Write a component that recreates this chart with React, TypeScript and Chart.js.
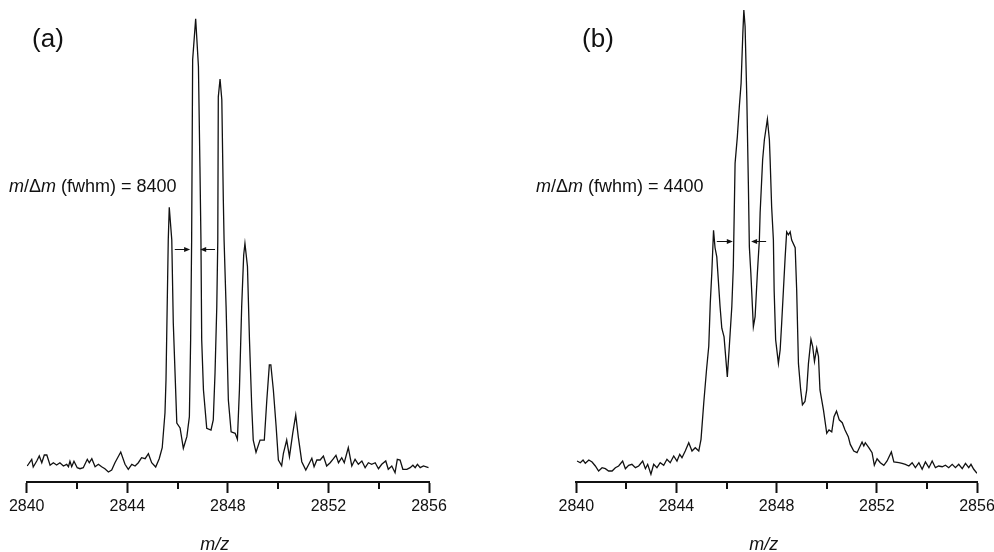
import React, { useEffect, useRef } from 'react';
import { Chart, registerables } from 'chart.js';

Chart.register(...registerables);

const FAM = "'Liberation Sans', Arial, Helvetica, sans-serif";

// ---------- data: panel (a) ----------
const mzA = [
  2840.02, 2840.20, 2840.26, 2840.40, 2840.50, 2840.60, 2840.70, 2840.80, 2840.93, 2841.06,
  2841.19, 2841.32, 2841.46, 2841.59, 2841.66, 2841.72, 2841.79, 2841.88, 2842.01, 2842.12,
  2842.25, 2842.41, 2842.49, 2842.59, 2842.72, 2842.85, 2842.98, 2843.11, 2843.25, 2843.38,
  2843.51, 2843.74, 2843.91, 2844.04, 2844.18, 2844.31, 2844.44, 2844.57, 2844.71, 2844.84,
  2844.97, 2845.13, 2845.27, 2845.39, 2845.50, 2845.54, 2845.63, 2845.67, 2845.77, 2845.83,
  2845.97, 2846.10, 2846.23, 2846.37, 2846.47, 2846.52, 2846.56, 2846.60, 2846.72, 2846.83,
  2846.89, 2846.93, 2846.96, 2847.03, 2847.16, 2847.33, 2847.42, 2847.49, 2847.56, 2847.60,
  2847.62, 2847.69, 2847.76, 2847.82, 2847.85, 2847.93, 2848.02, 2848.13, 2848.29, 2848.38,
  2848.46, 2848.55, 2848.63, 2848.68, 2848.78, 2848.86, 2848.95, 2849.01, 2849.12, 2849.28,
  2849.45, 2849.55, 2849.65, 2849.71, 2849.81, 2849.92, 2850.01, 2850.14, 2850.21, 2850.34,
  2850.45, 2850.58, 2850.70, 2850.80, 2850.94, 2851.10, 2851.24, 2851.34, 2851.43, 2851.54,
  2851.67, 2851.80, 2851.93, 2852.07, 2852.20, 2852.30, 2852.40, 2852.53, 2852.63, 2852.79,
  2852.93, 2853.06, 2853.19, 2853.33, 2853.46, 2853.59, 2853.72, 2853.86, 2853.99, 2854.12,
  2854.28, 2854.38, 2854.52, 2854.65, 2854.74, 2854.85, 2854.96, 2855.12, 2855.25, 2855.36,
  2855.45, 2855.54, 2855.65, 2855.78, 2855.98,
];
const intA = [
  3.32, 4.71, 3.11, 4.36, 5.40, 4.00, 5.60, 5.60, 3.47, 4.00,
  3.53, 4.00, 3.32, 3.67, 3.17, 4.30, 3.17, 4.30, 2.97, 2.76,
  2.97, 4.71, 4.00, 4.83, 3.17, 3.67, 3.17, 2.76, 2.07, 2.49,
  4.00, 6.22, 3.67, 2.64, 3.67, 3.32, 4.00, 5.04, 4.83, 5.87,
  4.00, 3.11, 4.83, 7.12, 14.38, 21.17, 50.2, 57.0, 50.2, 33.0,
  12.24, 11.2, 7.0, 9.4, 13.55, 29.5, 50.2, 87.6, 96.1, 86.2,
  65.4, 50.2, 29.5, 19.1, 11.14, 10.79, 12.87, 22.6, 36.4, 50.2,
  79.9, 83.6, 79.3, 58.5, 50.2, 36.4, 17.0, 10.4, 10.1, 8.86,
  19.1, 36.4, 47.1, 49.5, 44.7, 29.5, 15.6, 8.7, 6.16, 8.7,
  8.7, 17.0, 24.3, 24.3, 19.1, 11.5, 4.56, 3.38, 5.96, 8.7,
  5.25, 10.1, 13.9, 9.4, 4.21, 2.49, 3.88, 4.92, 3.17, 4.56,
  4.56, 5.40, 3.32, 4.00, 4.83, 5.54, 4.00, 5.04, 4.00, 7.12,
  3.32, 4.71, 3.67, 4.36, 2.97, 4.00, 3.67, 4.00, 2.76, 3.67,
  4.36, 2.64, 3.32, 1.93, 4.71, 4.56, 2.64, 2.64, 2.97, 3.47,
  2.97, 3.67, 2.97, 3.32, 2.97,
];

// ---------- data: panel (b) ----------
const mzB = [
  2840.03, 2840.16, 2840.27, 2840.36, 2840.50, 2840.63, 2840.76, 2840.89, 2841.03, 2841.16,
  2841.29, 2841.43, 2841.56, 2841.69, 2841.85, 2841.96, 2842.09, 2842.22, 2842.36, 2842.49,
  2842.65, 2842.76, 2842.85, 2842.98, 2843.09, 2843.22, 2843.35, 2843.49, 2843.62, 2843.75,
  2843.89, 2844.02, 2844.13, 2844.22, 2844.35, 2844.49, 2844.62, 2844.75, 2844.89, 2844.98,
  2845.09, 2845.20, 2845.29, 2845.35, 2845.41, 2845.48, 2845.54, 2845.61, 2845.74, 2845.81,
  2845.90, 2846.03, 2846.11, 2846.21, 2846.27, 2846.34, 2846.43, 2846.51, 2846.58, 2846.65,
  2846.69, 2846.74, 2846.81, 2846.87, 2846.91, 2846.97, 2847.07, 2847.14, 2847.23, 2847.31,
  2847.34, 2847.44, 2847.51, 2847.63, 2847.71, 2847.74, 2847.80, 2847.87, 2847.90, 2847.96,
  2848.07, 2848.14, 2848.20, 2848.27, 2848.34, 2848.40, 2848.47, 2848.54, 2848.60, 2848.74,
  2848.80, 2848.87, 2848.96, 2849.03, 2849.13, 2849.20, 2849.27, 2849.37, 2849.44, 2849.51,
  2849.60, 2849.67, 2849.73, 2849.87, 2850.00, 2850.09, 2850.20, 2850.29, 2850.39, 2850.50,
  2850.62, 2850.73, 2850.86, 2850.94, 2851.08, 2851.21, 2851.41, 2851.48, 2851.54, 2851.68,
  2851.81, 2851.90, 2852.01, 2852.14, 2852.28, 2852.41, 2852.58, 2852.68, 2852.88, 2853.01,
  2853.14, 2853.28, 2853.41, 2853.54, 2853.68, 2853.81, 2853.94, 2854.08, 2854.21, 2854.34,
  2854.47, 2854.61, 2854.74, 2854.87, 2855.01, 2855.14, 2855.27, 2855.41, 2855.54, 2855.67,
  2855.76, 2855.87, 2856.00,
];
const intB = [
  4.36, 4.00, 4.56, 3.88, 4.56, 4.15, 3.32, 2.28, 2.97, 2.76,
  2.28, 2.28, 2.97, 3.32, 4.36, 2.76, 3.47, 3.67, 2.97, 3.32,
  4.36, 2.76, 3.67, 1.60, 3.67, 2.97, 4.00, 3.47, 4.71, 4.00,
  5.40, 4.36, 5.75, 5.04, 6.43, 8.15, 6.43, 7.12, 6.43, 8.86,
  16.45, 23.3, 28.2, 37.2, 43.3, 52.2, 48.6, 46.7, 36.4, 31.9,
  30.1, 21.8, 28.1, 36.4, 44.7, 66.1, 71.6, 77.9, 82.7, 93.1,
  97.9, 94.5, 79.3, 62.0, 48.8, 43.3, 32.2, 34.3, 43.3, 50.2,
  55.8, 66.8, 71.0, 75.3, 71.0, 66.8, 57.1, 50.2, 39.8, 29.5,
  24.6, 27.4, 32.9, 39.8, 46.7, 51.9, 51.3, 51.9, 50.2, 48.6,
  39.8, 24.6, 19.1, 16.0, 16.7, 19.1, 24.6, 29.6, 28.1, 25.0,
  27.8, 26.0, 19.1, 14.9, 10.1, 10.8, 10.4, 13.55, 14.7, 12.9,
  12.3, 10.8, 9.4, 7.8, 6.43, 6.08, 8.3, 7.47, 8.15, 7.12,
  6.08, 3.47, 4.83, 4.00, 3.47, 4.36, 6.22, 4.15, 4.00, 3.88,
  3.67, 3.32, 4.00, 2.97, 4.00, 2.64, 4.15, 2.97, 4.36, 2.97,
  3.32, 3.17, 3.47, 2.97, 3.67, 2.97, 3.67, 2.76, 3.88, 2.97,
  3.67, 2.64, 1.81,
];

// ---------- axes / annotations ----------
const xMin = 2840;
const xMax = 2856;
const majorStep = 4;
const minorTicks = [2842, 2846, 2850, 2854];
const panelLabels = ['(a)', '(b)'];
const resolutions = ['8400', '4400'];
const axisTitle = 'm/z';
// FWHM arrows: [tail, head] m/z pairs at half-maximum intensity
const fwhmLevel = [48.3, 49.9];
const fwhmLeftArrow = [[2845.89, 2846.50], [2845.61, 2846.25]];
const fwhmRightArrow = [[2847.49, 2846.90], [2847.58, 2846.98]];

const W = 497;
const H = 552;

function drawArrow(ctx: CanvasRenderingContext2D, x1: number, x2: number, y: number) {
  const dir = Math.sign(x2 - x1);
  ctx.beginPath();
  ctx.moveTo(x1, y);
  ctx.lineTo(x2 - dir * 3, y);
  ctx.stroke();
  ctx.beginPath();
  ctx.moveTo(x2, y);
  ctx.lineTo(x2 - dir * 6, y - 2.5);
  ctx.lineTo(x2 - dir * 6, y + 2.5);
  ctx.closePath();
  ctx.fill();
}

function makeDecor(idx: number, labelX: number, annX: number) {
  return {
    id: 'decor' + idx,
    afterDraw(chart: any) {
      const { ctx, chartArea, scales } = chart;
      const x = scales.x;
      const y = scales.y;
      ctx.save();
      ctx.strokeStyle = '#111';
      ctx.fillStyle = '#111';
      // minor ticks
      ctx.lineWidth = 2;
      for (const v of minorTicks) {
        const px = Math.round(x.getPixelForValue(v));
        ctx.beginPath();
        ctx.moveTo(px, chartArea.bottom);
        ctx.lineTo(px, chartArea.bottom + 7);
        ctx.stroke();
      }
      // panel label
      ctx.textBaseline = 'middle';
      ctx.textAlign = 'center';
      ctx.font = `26px ${FAM}`;
      ctx.fillText(panelLabels[idx], labelX, 40);
      // axis title
      ctx.font = `italic 18px ${FAM}`;
      ctx.fillText(axisTitle, (chartArea.left + chartArea.right) / 2 - 13, 545);
      // resolution annotation
      ctx.textAlign = 'left';
      const parts: [string, boolean][] = [
        ['m', true], ['/', false], ['\u0394', false], ['m', true], [' (fwhm) = ' + resolutions[idx], false],
      ];
      let xx = annX;
      for (const [t, it] of parts) {
        ctx.font = `${it ? 'italic ' : ''}18px ${FAM}`;
        ctx.fillText(t, xx, 187);
        xx += ctx.measureText(t).width;
      }
      // FWHM arrows
      ctx.lineWidth = 1;
      const ay = Math.round(y.getPixelForValue(fwhmLevel[idx])) + 0.5;
      drawArrow(ctx, x.getPixelForValue(fwhmLeftArrow[idx][0]), x.getPixelForValue(fwhmLeftArrow[idx][1]), ay);
      drawArrow(ctx, x.getPixelForValue(fwhmRightArrow[idx][0]), x.getPixelForValue(fwhmRightArrow[idx][1]), ay);
      ctx.restore();
    },
  };
}

interface PanelProps {
  idx: number;
  left: number;
  mz: number[];
  inten: number[];
  padLeft: number;
  padRight: number;
  labelX: number;
  annX: number;
}

function Panel({ idx, left, mz, inten, padLeft, padRight, labelX, annX }: PanelProps) {
  const ref = useRef<HTMLCanvasElement>(null);
  useEffect(() => {
    if (!ref.current) return;
    const n = Math.min(mz.length, inten.length);
    const pts = [] as { x: number; y: number }[];
    for (let i = 0; i < n; i++) pts.push({ x: mz[i], y: inten[i] });
    const chart = new Chart(ref.current, {
      type: 'line',
      data: {
        datasets: [
          {
            data: pts,
            borderColor: '#111',
            borderWidth: 1.3,
            pointRadius: 0,
            tension: 0,
            fill: false,
          },
        ],
      },
      options: {
        responsive: false,
        animation: false,
        devicePixelRatio: 1,
        layout: { padding: { left: padLeft, right: padRight, top: 0, bottom: 0 } },
        plugins: { legend: { display: false }, tooltip: { enabled: false }, title: { display: false } },
        scales: {
          x: {
            type: 'linear',
            min: xMin,
            max: xMax,
            afterFit: (s: any) => {
              s.height = 70;
              s.paddingLeft = 0;
              s.paddingRight = 0;
            },
            ticks: {
              stepSize: majorStep,
              color: '#111',
              font: { family: FAM, size: 16 },
              padding: 4,
              maxRotation: 0,
              autoSkip: false,
              callback: (v: any) => String(v),
            },
            grid: {
              drawOnChartArea: false,
              drawTicks: true,
              tickLength: 11,
              tickWidth: 2,
              tickColor: '#111',
            },
            border: { display: true, color: '#111', width: 2 },
          },
          y: { display: false, min: 0, max: 100 },
        },
      },
      plugins: [makeDecor(idx, labelX, annX)],
    } as any);
    return () => chart.destroy();
  }, []);
  return (
    <div style={{ position: 'absolute', left, top: 0, width: W, height: H }}>
      <canvas ref={ref} width={W} height={H} style={{ display: 'block' }} />
    </div>
  );
}

export default function App() {
  return (
    <div style={{ position: 'fixed', left: 0, top: 0, width: 994, height: 552, background: '#fff', overflow: 'hidden' }}>
      <Panel idx={0} left={0} mz={mzA} inten={intA} padLeft={26.7} padRight={68} labelX={48} annX={9} />
      <Panel idx={1} left={497} mz={mzB} inten={intB} padLeft={79.3} padRight={17} labelX={101} annX={39} />
    </div>
  );
}
